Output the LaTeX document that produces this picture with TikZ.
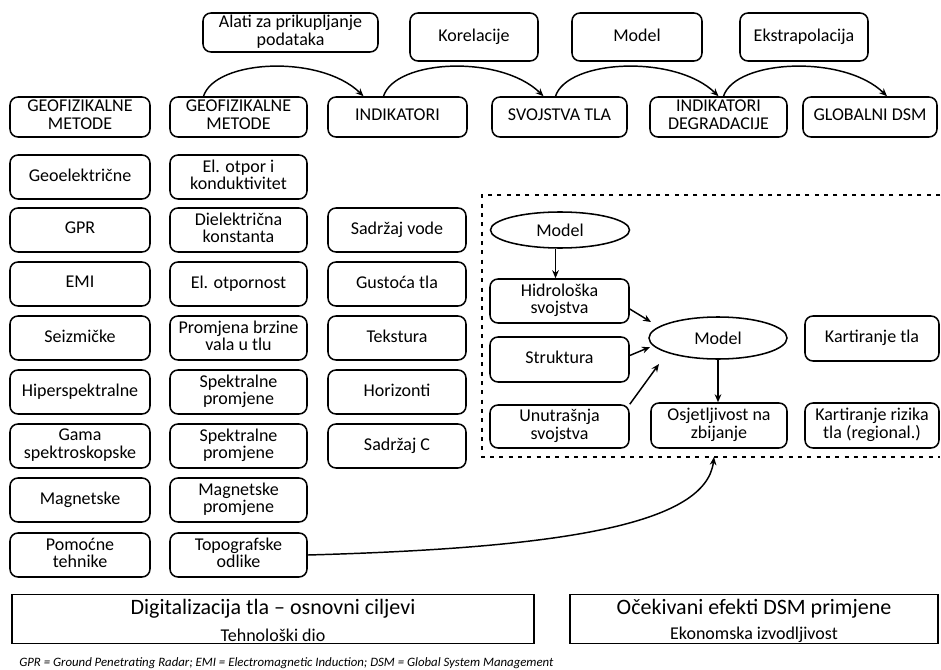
\documentclass[tikz,border=0pt]{standalone}
\usepackage{fontspec}
\setmainfont{Carlito}
\usetikzlibrary{shapes.geometric,arrows.meta,calc}
\newcommand\mybox[7][]{\node[rb,#1,minimum width={(#5-#3)*0.75pt},minimum height={(#6-#4)*0.75pt}] (#2) at ({(#3+#5)/2},{(#4+#6)/2}) {#7};}
\begin{document}
\begin{tikzpicture}[x=0.75pt,y=-0.75pt,
  rb/.style={draw, line width=1.15pt, rounded corners=6pt, align=center, inner sep=0pt, font=\fontsize{13.5}{13.2}\selectfont, execute at begin node=\rule{0pt}{9pt}, execute at end node=\rule[-3.2pt]{0pt}{0pt}},
  sq/.style={draw, line width=1.15pt, inner sep=0pt},
  el/.style={draw, ellipse, line width=1.15pt, inner sep=0pt, font=\fontsize{13.5}{15}\selectfont},
  arr/.style={line width=1.1pt, -{Stealth[length=6pt,width=5pt]}},
  bigt/.style={font=\fontsize{16.5}{19}\selectfont},
  smallt/.style={font=\fontsize{13.5}{15}\selectfont},
  dashbox/.style={line width=1.1pt, dash pattern=on 3pt off 4pt},
]
\useasboundingbox (0,0) rectangle (941,670);
% top row
\mybox{alati}{203}{13}{378}{52}{Alati za prikupljanje\\podataka}
\mybox{korel}{410}{13}{538}{61}{Korelacije}
\mybox{modt}{572}{13}{702}{61}{Model}
\mybox{ekst}{740}{13}{868}{61}{Ekstrapolacija}
% second row
\mybox{geoa}{10}{97}{150}{137}{GEOFIZIKALNE\\METODE}
\mybox{geob}{170}{97}{307}{137}{GEOFIZIKALNE\\METODE}
\mybox{ind}{328}{97}{467}{137}{INDIKATORI}
\mybox{svo}{492}{97}{627}{137}{SVOJSTVA TLA}
\mybox{indd}{650}{97}{787}{137}{INDIKATORI\\DEGRADACIJE}
\mybox{glob}{803}{97}{937}{137}{GLOBALNI DSM}
% column A
\mybox{a1}{10}{155}{150}{199}{Geoelektrične}
\mybox{a2}{10}{208}{150}{252}{GPR}
\mybox{a3}{10}{262}{150}{306}{EMI}
\mybox{a4}{10}{316}{150}{360}{Seizmičke}
\mybox{a5}{10}{370}{150}{414}{Hiperspektralne}
\mybox{a6}{10}{424}{150}{468}{Gama\\spektroskopske}
\mybox{a7}{10}{478}{150}{522}{Magnetske}
\mybox{a8}{10}{533}{150}{577}{Pomoćne\\tehnike}
% column B
\mybox{b1}{170}{155}{307}{199}{El. otpor i\\konduktivitet}
\mybox{b2}{170}{208}{307}{252}{Dielektrična\\konstanta}
\mybox{b3}{170}{262}{307}{306}{El. otpornost}
\mybox{b4}{170}{316}{307}{360}{Promjena brzine\\vala u tlu}
\mybox{b5}{170}{370}{307}{414}{Spektralne\\promjene}
\mybox{b6}{170}{424}{307}{468}{Spektralne\\promjene}
\mybox{b7}{170}{478}{307}{522}{Magnetske\\promjene}
\mybox{b8}{170}{533}{307}{577}{Topografske\\odlike}
% column C
\mybox{c2}{328}{208}{466}{252}{Sadržaj vode}
\mybox{c3}{328}{262}{466}{306}{Gustoća tla}
\mybox{c4}{328}{316}{466}{360}{Tekstura}
\mybox{c5}{328}{370}{466}{414}{Horizonti}
\mybox{c6}{328}{424}{466}{468}{Sadržaj C}
% dashed region
\draw[dashbox] (940,195) -- (482,195) -- (482,457) -- (940,457);
\coordinate (dsb) at (714,457);
\node[el, minimum width={139*0.75pt}, minimum height={36*0.75pt}] (m1) at (560,230) {Model};
\mybox{hidro}{490}{279}{629}{323}{Hidrološka\\svojstva}
\mybox{strukt}{490}{337}{629}{382}{Struktura}
\mybox{unut}{490}{405}{629}{448}{Unutrašnja\\svojstva}
\node[el, minimum width={138*0.75pt}, minimum height={42*0.75pt}] (m2) at (718,338) {Model};
\mybox{osj}{651}{403}{787}{448}{Osjetljivost na\\zbijanje}
\mybox{kart}{805}{316}{939}{361}{Kartiranje tla}
\mybox{kartr}{805}{403}{939}{448}{Kartiranje rizika\\tla (regional.)}
% arrows in dashed region
\draw[arr] (m1.south -| hidro.north) ++(-4,0) -- ($(hidro.north)+(-4,0)$);
\draw[arr] ($(hidro.east)+(0,8)$) -- ($(m2.center)+(-67,-16)$);
\draw[arr] ($(strukt.east)+(0,-4)$) -- ($(m2.center)+(-68,9)$);
\draw[arr] (unut.north east) -- ($(m2.center)+(-59,26)$);
\draw[arr] (m2.south) -- (m2.south |- osj.north);
% top arcs
\draw[arr] ($(geob.north)+(-35,0)$) .. controls +(12,-37) and +(-43,-42) .. ($(ind.north)+(-34,0)$);
\draw[arr] ($(ind.north)+(-14,0)$) .. controls +(12,-37) and +(-43,-42) .. ($(svo.north)+(-16,0)$);
\draw[arr] ($(svo.north)+(-4,0)$) .. controls +(12,-37) and +(-43,-42) .. ($(indd.north)+(0,0)$);
\draw[arr] ($(indd.north)+(5,0)$) .. controls +(12,-37) and +(-43,-42) .. ($(glob.north)+(17,0)$);
% long curve
\draw[arr] (b8.east) .. controls (560,548) and (706,525) .. (dsb);
% bottom boxes
\node[sq, minimum width={522*0.75pt}, minimum height={49*0.75pt}] (dig) at (273,619) {};
\node[bigt] (digt) at (273,609) {Digitalizacija tla – osnovni ciljevi};
\node[smallt] (digs) at (273,635) {Tehnološki dio};
\node[sq, minimum width={368*0.75pt}, minimum height={49*0.75pt}] (oce) at (754,619) {};
\node[bigt] (ocet) at (754,609) {Očekivani efekti DSM primjene};
\node[smallt] (oces) at (754,635) {Ekonomska izvodljivost};
% footnote
\node[anchor=west, inner sep=0pt, font=\fontsize{9.6}{11}\selectfont\itshape] (note) at (19,663) {GPR = Ground Penetrating Radar; EMI = Electromagnetic Induction; DSM = Global System Management};
\end{tikzpicture}
\end{document}
